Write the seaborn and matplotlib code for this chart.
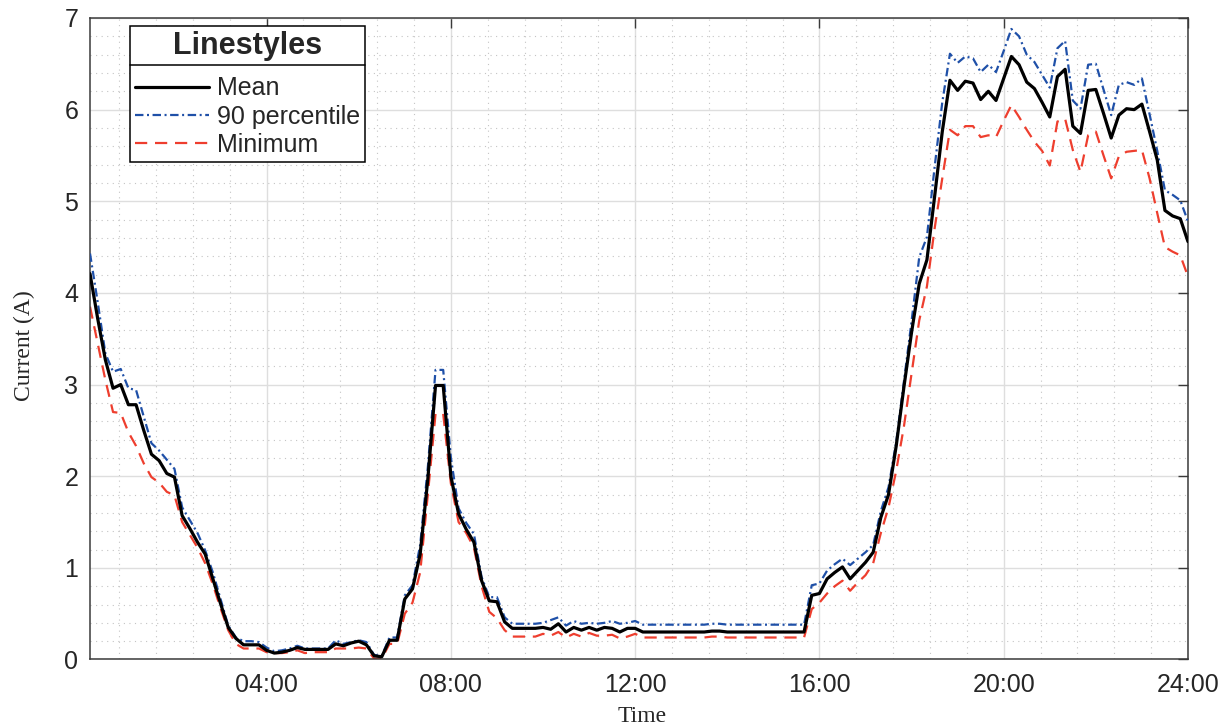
import numpy as np
import pandas as pd
import matplotlib
matplotlib.use("Agg")
import matplotlib.pyplot as plt
from matplotlib.ticker import FixedLocator, MultipleLocator, FuncFormatter
from matplotlib.lines import Line2D
import seaborn as sns

# Ten-minute samples from 00:10 to 24:00
minutes = np.arange(10, 24 * 60 + 1, 10)
hours = minutes / 60.0

mean_current = [
    4.21, 3.72, 3.27, 2.96, 3.00, 2.78, 2.78, 2.50, 2.24, 2.17, 2.03, 1.99,
    1.57, 1.43, 1.28, 1.15, 0.88, 0.61, 0.35, 0.23, 0.16, 0.16, 0.16, 0.10,
    0.07, 0.08, 0.10, 0.13, 0.11, 0.11, 0.11, 0.11, 0.17, 0.15, 0.18, 0.20,
    0.16, 0.04, 0.03, 0.21, 0.21, 0.66, 0.77, 1.15, 1.97, 2.99, 2.99, 2.00,
    1.59, 1.42, 1.28, 0.86, 0.64, 0.63, 0.41, 0.34, 0.34, 0.34, 0.34, 0.35,
    0.33, 0.39, 0.30, 0.35, 0.32, 0.35, 0.32, 0.35, 0.34, 0.30, 0.34, 0.34,
    0.30, 0.30, 0.30, 0.30, 0.30, 0.30, 0.30, 0.30, 0.30, 0.31, 0.31, 0.30,
    0.30, 0.30, 0.30, 0.30, 0.30, 0.30, 0.30, 0.30, 0.30, 0.30, 0.70, 0.72,
    0.88, 0.95, 1.01, 0.88, 0.97, 1.06, 1.17, 1.55, 1.80, 2.33, 2.97, 3.57,
    4.10, 4.36, 5.05, 5.76, 6.32, 6.21, 6.31, 6.29, 6.11, 6.20, 6.10, 6.34,
    6.58, 6.49, 6.30, 6.23, 6.08, 5.92, 6.36, 6.44, 5.82, 5.74, 6.21, 6.22,
    5.96, 5.69, 5.94, 6.01, 6.00, 6.06, 5.76, 5.45, 4.90, 4.84, 4.81, 4.56,
]

p90_current = [
    4.43, 3.90, 3.34, 3.14, 3.17, 2.96, 2.94, 2.65, 2.36, 2.28, 2.18, 2.08,
    1.66, 1.52, 1.38, 1.19, 0.95, 0.66, 0.37, 0.24, 0.20, 0.20, 0.19, 0.13,
    0.09, 0.10, 0.12, 0.15, 0.12, 0.12, 0.12, 0.12, 0.21, 0.17, 0.19, 0.21,
    0.19, 0.05, 0.04, 0.24, 0.24, 0.70, 0.81, 1.25, 2.10, 3.16, 3.16, 2.20,
    1.65, 1.49, 1.37, 0.90, 0.68, 0.68, 0.46, 0.39, 0.39, 0.39, 0.39, 0.40,
    0.43, 0.46, 0.37, 0.42, 0.39, 0.40, 0.39, 0.40, 0.42, 0.39, 0.40, 0.42,
    0.38, 0.38, 0.38, 0.38, 0.38, 0.38, 0.38, 0.38, 0.38, 0.39, 0.39, 0.38,
    0.38, 0.38, 0.38, 0.38, 0.38, 0.38, 0.38, 0.38, 0.38, 0.38, 0.81, 0.83,
    0.97, 1.04, 1.10, 1.03, 1.10, 1.17, 1.25, 1.62, 1.88, 2.37, 3.03, 3.69,
    4.39, 4.61, 5.37, 6.08, 6.61, 6.51, 6.58, 6.56, 6.41, 6.49, 6.41, 6.64,
    6.88, 6.80, 6.60, 6.52, 6.38, 6.24, 6.67, 6.75, 6.10, 6.01, 6.49, 6.50,
    6.22, 5.94, 6.27, 6.30, 6.27, 6.34, 5.95, 5.55, 5.12, 5.07, 5.01, 4.78,
]

min_current = [
    3.85, 3.45, 3.05, 2.70, 2.69, 2.48, 2.33, 2.14, 1.99, 1.93, 1.83, 1.79,
    1.50, 1.36, 1.22, 1.05, 0.82, 0.56, 0.32, 0.17, 0.12, 0.12, 0.12, 0.08,
    0.07, 0.07, 0.08, 0.10, 0.07, 0.08, 0.08, 0.08, 0.12, 0.12, 0.12, 0.13,
    0.12, 0.01, 0.01, 0.17, 0.17, 0.50, 0.62, 0.95, 1.80, 2.68, 2.68, 1.92,
    1.50, 1.38, 1.22, 0.80, 0.52, 0.45, 0.32, 0.25, 0.25, 0.25, 0.25, 0.28,
    0.26, 0.30, 0.24, 0.28, 0.25, 0.29, 0.26, 0.26, 0.27, 0.23, 0.25, 0.28,
    0.24, 0.24, 0.24, 0.24, 0.24, 0.24, 0.24, 0.24, 0.24, 0.25, 0.25, 0.24,
    0.24, 0.24, 0.24, 0.24, 0.24, 0.24, 0.24, 0.24, 0.24, 0.24, 0.55, 0.62,
    0.72, 0.80, 0.86, 0.75, 0.84, 0.92, 1.05, 1.38, 1.66, 2.06, 2.54, 3.12,
    3.70, 4.07, 4.70, 5.25, 5.78, 5.72, 5.82, 5.82, 5.70, 5.72, 5.70, 5.88,
    6.05, 5.92, 5.78, 5.65, 5.55, 5.39, 5.87, 5.90, 5.56, 5.32, 5.72, 5.76,
    5.50, 5.25, 5.49, 5.54, 5.55, 5.56, 5.25, 4.87, 4.50, 4.45, 4.41, 4.18,
]

series_names = ["Mean", "90 percentile", "Minimum"]
tick_hours = [4, 8, 12, 16, 20, 24]
tick_labels = ["04:00", "08:00", "12:00", "16:00", "20:00", "24:00"]
y_ticks = [0, 1, 2, 3, 4, 5, 6, 7]

df = pd.DataFrame({
    "hours": hours,
    "Mean": mean_current,
    "90 percentile": p90_current,
    "Minimum": min_current,
}).melt(id_vars="hours", var_name="series", value_name="current")

sns.set_theme(style="white")
plt.rcParams["font.family"] = ["Liberation Sans", "DejaVu Sans"]

styles = {
    "Mean": dict(color="black", lw=2.3, ls="-", zorder=4),
    "90 percentile": dict(color="#1f50a8", lw=1.6, ls=(0, (3.8, 1.6, 0.9, 1.6)), zorder=3),
    "Minimum": dict(color="#ee3e2e", lw=1.6, ls=(0, (5.5, 3.5)), zorder=2),
}

fig = plt.figure(figsize=(12.28, 7.28), dpi=100)
ax = fig.add_axes([0.0733, 0.0941, 0.8941, 0.8812])

for name in series_names:
    st = styles[name]
    sns.lineplot(data=df[df["series"] == name], x="hours", y="current",
                 color=st["color"], lw=st["lw"], linestyle=st["ls"],
                 zorder=st["zorder"], label=name, ax=ax)

ax.set_xlim(hours[0], 24)
ax.set_ylim(0, 7)

ax.xaxis.set_major_locator(FixedLocator(tick_hours))
ax.xaxis.set_major_formatter(FuncFormatter(lambda v, p: tick_labels[tick_hours.index(int(round(v)))]
                                           if int(round(v)) in tick_hours else ""))
ax.xaxis.set_minor_locator(MultipleLocator(0.8))
ax.yaxis.set_major_locator(FixedLocator(y_ticks))
ax.yaxis.set_minor_locator(MultipleLocator(0.2))

ax.grid(which="major", color="#dedede", lw=1.0, ls="-")
ax.grid(which="minor", color="#c4c4c4", lw=0.8, ls=(0, (1, 4)))
ax.set_axisbelow(True)

for sp in ax.spines.values():
    sp.set_color("#3a3a3a")
    sp.set_linewidth(1.1)

ax.tick_params(which="major", direction="in", length=7, width=1.0, color="#3a3a3a",
               top=True, right=True, labelsize=18, labelcolor="#262626")
ax.tick_params(axis="x", which="major", pad=10)
ax.tick_params(axis="y", which="major", pad=8.5)
ax.tick_params(which="minor", length=0)

ax.set_xlabel("Time", family="Liberation Serif", fontsize=17, color="#262626")
ax.set_ylabel("Current (A)", family="Liberation Serif", fontsize=17, color="#262626")
ax.xaxis.set_label_coords(0.503, -0.072)
ax.yaxis.set_label_coords(-0.05, 0.49)

handles, labels = ax.get_legend_handles_labels()
order = [labels.index(n) for n in series_names]
leg = ax.legend([handles[i] for i in order], [labels[i] for i in order],
                title="Linestyles", loc="upper left",
                bbox_to_anchor=(0.0364, 0.9875), borderaxespad=0,
                fontsize=18, title_fontproperties={"weight": "bold", "size": 22},
                frameon=True, fancybox=False, framealpha=1, edgecolor="black",
                handlelength=2.95, handletextpad=0.32, labelspacing=0.17,
                borderpad=0.2)
leg.get_frame().set_linewidth(1.1)
leg.set_zorder(10)
# extra room between the title and the entries
leg._legend_box.sep = 11

fig.canvas.draw()
leg_bb = leg.get_frame().get_window_extent()
title_bb = leg.get_title().get_window_extent()
y_sep = title_bb.y0 - 4
inv = fig.transFigure.inverted()
(x0, ys), (x1, _) = inv.transform([(leg_bb.x0, y_sep), (leg_bb.x1, y_sep)])
fig.add_artist(Line2D([x0, x1], [ys, ys], color="black", lw=1.1, zorder=11))

fig.savefig("out.png", dpi=100)
